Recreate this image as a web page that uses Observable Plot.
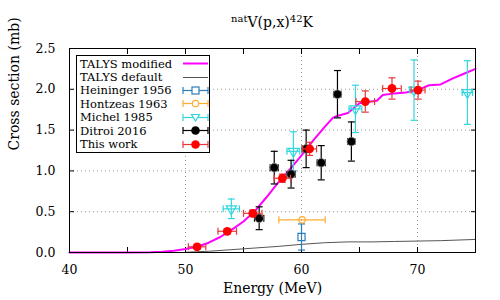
<!DOCTYPE html>
<html><head><meta charset="utf-8">
<script src="https://cdn.jsdelivr.net/npm/d3@7"></script>
<script src="https://cdn.jsdelivr.net/npm/@observablehq/plot@0.6"></script>
<style>
body{margin:0;background:#fff;}
#wrap{position:relative;width:500px;height:300px;font-family:"DejaVu Serif",serif;}
#title{position:absolute;left:69px;width:406px;top:14px;text-align:center;font-size:14px;line-height:16px;}
#title sup{font-size:10px;vertical-align:5px;line-height:0;}
#legend{position:absolute;left:76px;top:55px;width:132px;border:1px solid #000;background:#fff;font-size:11.5px;padding:1px 0 1px 0;}
.row{display:flex;align-items:center;height:13.4px;}
.row span{flex:1;padding-left:3px;white-space:nowrap;}
.row svg{display:block;}
</style></head>
<body><div id="wrap"><div id="chart"></div>
<div id="title"><sup>nat</sup>V(p,x)<sup>42</sup>K</div>
<div id="legend"></div></div>
<script>
// ---- data ----
const xTicks = [40, 50, 60, 70];
const xMinor = [40, 45, 50, 55, 60, 65, 70, 75];
const yTicks = [0, 0.5, 1, 1.5, 2, 2.5];

const talModE = [40,45,47,48,49,50,51,52,53,54,55,56,57,58,59,60,61,62,62.7,63,64,65,66,66.5,67,68,69,70,71,72,73,74,75];
const talModS = [0,0,0.003,0.01,0.022,0.042,0.07,0.12,0.19,0.28,0.38,0.51,0.68,0.86,1.02,1.19,1.37,1.54,1.65,1.67,1.71,1.83,1.85,1.86,1.93,1.95,1.96,1.99,2.05,2.06,2.13,2.19,2.25];

const talDefE = [50,52,54,56,58,60,62,64,66,68,70,72,75];
const talDefS = [0.003,0.015,0.035,0.055,0.075,0.1,0.12,0.13,0.13,0.135,0.14,0.145,0.16];

const heiE = [60.0], heiS = [0.19], heiDE = [0], heiDS = [0.16];
const honE = [60.05], honS = [0.4], honDE = [2.0], honDS = [0];
const micE = [53.95, 59.3, 64.65, 69.7, 74.3];
const micS = [0.535, 1.24, 1.76, 1.99, 1.96];
const micDE = [0.7, 0.55, 0.55, 0.4, 0.45];
const micDS = [0.12, 0.24, 0.29, 0.37, 0.39];
const ditE = [56.35, 57.65, 59.1, 60.4, 61.7, 63.1, 64.3];
const ditS = [0.42, 1.04, 0.96, 1.27, 1.10, 1.94, 1.36];
const ditDE = [0.4, 0.35, 0.35, 0.35, 0.35, 0.3, 0.3];
const ditDS = [0.14, 0.2, 0.17, 0.23, 0.21, 0.29, 0.24];
const thisE = [51.0, 53.6, 55.8, 58.35, 60.7, 65.5, 67.8, 70.05];
const thisS = [0.07, 0.26, 0.48, 0.91, 1.27, 1.85, 2.01, 1.99];
const thisDE = [0.75, 0.8, 0.8, 0.7, 0.6, 0.8, 0.8, 0.6];
const thisDS = [0.03, 0.03, 0.04, 0.05, 0.08, 0.13, 0.13, 0.11];

const seriesNames = ["TALYS modified","TALYS default","Heininger 1956","Hontzeas 1963","Michel 1985","Ditroi 2016","This work"];
// ---- build ----
const zip = (E,S,DE,DS) => E.map((e,i)=>({E:e,S:S[i],DE:DE?DE[i]:0,DS:DS?DS[i]:0}));
const talMod = zip(talModE, talModS);
const talDef = zip(talDefE, talDefS);
const hei = zip(heiE, heiS, heiDE, heiDS);
const hon = zip(honE, honS, honDE, honDS);
const mic = zip(micE, micS, micDE, micDS);
const dit = zip(ditE, ditS, ditDE, ditDS);
const tw = zip(thisE, thisS, thisDE, thisDS);

const hcap = {draw(c, size){const w=Math.sqrt(size/Math.PI); c.moveTo(-w,0); c.lineTo(w,0);}};
const vcap = {draw(c, size){const w=Math.sqrt(size/Math.PI); c.moveTo(0,-w); c.lineTo(0,w);}};

function errMarks(data, color, capR, sw){
  const v = data.filter(d=>d.DS>0), h = data.filter(d=>d.DE>0);
  return [
    Plot.ruleX(v, {x:"E", y1:d=>d.S-d.DS, y2:d=>d.S+d.DS, stroke:color, strokeWidth:sw}),
    Plot.ruleY(h, {y:"S", x1:d=>d.E-d.DE, x2:d=>d.E+d.DE, stroke:color, strokeWidth:sw}),
    Plot.dot(v, {x:"E", y:d=>d.S+d.DS, symbol:hcap, r:capR, stroke:color, strokeWidth:sw}),
    Plot.dot(v, {x:"E", y:d=>d.S-d.DS, symbol:hcap, r:capR, stroke:color, strokeWidth:sw}),
    Plot.dot(h, {x:d=>d.E+d.DE, y:"S", symbol:vcap, r:capR, stroke:color, strokeWidth:sw}),
    Plot.dot(h, {x:d=>d.E-d.DE, y:"S", symbol:vcap, r:capR, stroke:color, strokeWidth:sw})
  ];
}
const C = {mod:"#ff00ff", def:"#555555", hei:"#2a7fba", hon:"#ffad33", mic:"#33d6dd", dit:"#000000", tw:"#ff0000", twErr:"#e8383d"};

const chart = Plot.plot({
  width: 500, height: 300,
  marginLeft: 69, marginRight: 25, marginTop: 48, marginBottom: 48,
  style: {fontFamily: "DejaVu Serif, serif", fontSize: "12.5px", color: "#000", background: "#fff"},
  x: {domain: [40, 75]},
  y: {domain: [0, 2.5]},
  marks: [
    Plot.gridX(xTicks.filter(t=>t>40), {stroke:"#999", strokeOpacity:1, strokeDasharray:"1,3"}),
    Plot.gridY(yTicks.filter(t=>t>0 && t<2.5), {stroke:"#999", strokeOpacity:1, strokeDasharray:"1,3"}),
    Plot.axisX(xMinor, {anchor:"bottom", tickSize:-5, tickFormat:()=>"", label:null}),
    Plot.axisX(xMinor, {anchor:"top", tickSize:-5, tickFormat:()=>"", label:null}),
    Plot.axisY(yTicks, {anchor:"left", tickSize:-5, tickFormat:()=>"", label:null}),
    Plot.axisY(yTicks, {anchor:"right", tickSize:-5, tickFormat:()=>"", label:null}),
    Plot.axisX(xTicks, {anchor:"bottom", tickSize:0, tickPadding:13, label:null, fontSize:12.5}),
    Plot.axisY(yTicks, {anchor:"left", tickSize:0, tickPadding:14, label:null, fontSize:12.5}),
    Plot.text(["Energy (MeV)"], {frameAnchor:"bottom", dy:40, text:d=>d, fontSize:14}),
    Plot.text(["Cross section (mb)"], {frameAnchor:"left", dx:-55, rotate:-90, text:d=>d, fontSize:14}),
    Plot.line(talDef, {x:"E", y:"S", stroke:C.def, strokeWidth:1}),
    Plot.line(talMod, {x:"E", y:"S", stroke:C.mod, strokeWidth:2}),
    ...errMarks(hei, C.hei, 3.5, 1.2),
    Plot.dot(hei, {x:"E", y:"S", symbol:"square", r:4, stroke:C.hei, strokeWidth:1.2, fill:"none"}),
    ...errMarks(hon, C.hon, 3.5, 1.2),
    Plot.dot(hon, {x:"E", y:"S", symbol:"circle", r:3.2, stroke:C.hon, strokeWidth:1.2, fill:"none"}),
    ...errMarks(mic, C.mic, 3.5, 1.2),
    Plot.dot(mic, {x:"E", y:"S", symbol:"triangle", rotate:180, r:3.8, stroke:C.mic, strokeWidth:1.2, fill:"none"}),
    ...errMarks(dit, C.dit, 3.5, 1.2),
    Plot.dot(dit, {x:"E", y:"S", r:4.3, fill:C.dit, stroke:"#888", strokeWidth:0.8}),
    ...errMarks(tw, C.twErr, 3.5, 1.2),
    Plot.dot(tw, {x:"E", y:"S", r:4.4, fill:C.tw}),
    Plot.frame({stroke:"#000", strokeWidth:1})
  ]
});
document.getElementById("chart").appendChild(chart);

// ---- legend ----
const legendSpec = [
  {type:"line", color:C.mod, w:2},
  {type:"line", color:C.def, w:1},
  {type:"err", color:C.hei, marker:"square"},
  {type:"err", color:C.hon, marker:"circle"},
  {type:"err", color:C.mic, marker:"tri"},
  {type:"err", color:C.dit, marker:"fill", mcolor:"#000"},
  {type:"err", color:C.twErr, marker:"fill", mcolor:C.tw}
];
const lg = d3.select("#legend");
seriesNames.forEach((name,i)=>{
  const s = legendSpec[i];
  const row = lg.append("div").attr("class","row");
  row.append("span").text(name);
  const svg = row.append("svg").attr("width",27).attr("height",13);
  if (s.type==="line") {
    svg.append("line").attr("x1",1).attr("x2",26).attr("y1",6.5).attr("y2",6.5).attr("stroke",s.color).attr("stroke-width",s.w);
  } else {
    svg.append("line").attr("x1",1).attr("x2",26).attr("y1",6.5).attr("y2",6.5).attr("stroke",s.color).attr("stroke-width",1.2);
    svg.append("line").attr("x1",1).attr("x2",1).attr("y1",3).attr("y2",10).attr("stroke",s.color).attr("stroke-width",1.2);
    svg.append("line").attr("x1",26).attr("x2",26).attr("y1",3).attr("y2",10).attr("stroke",s.color).attr("stroke-width",1.2);
    if (s.marker==="square") svg.append("rect").attr("x",10).attr("y",3).attr("width",7).attr("height",7).attr("fill","#fff").attr("stroke",s.color).attr("stroke-width",1.2);
    if (s.marker==="circle") svg.append("circle").attr("cx",13.5).attr("cy",6.5).attr("r",3.2).attr("fill","#fff").attr("stroke",s.color).attr("stroke-width",1.2);
    if (s.marker==="tri") svg.append("path").attr("d","M9.5,3.5L17.5,3.5L13.5,10Z").attr("fill","#fff").attr("stroke",s.color).attr("stroke-width",1.2);
    if (s.marker==="fill") svg.append("circle").attr("cx",13.5).attr("cy",6.5).attr("r",4.3).attr("fill",s.mcolor);
  }
});
</script>
</body></html>
